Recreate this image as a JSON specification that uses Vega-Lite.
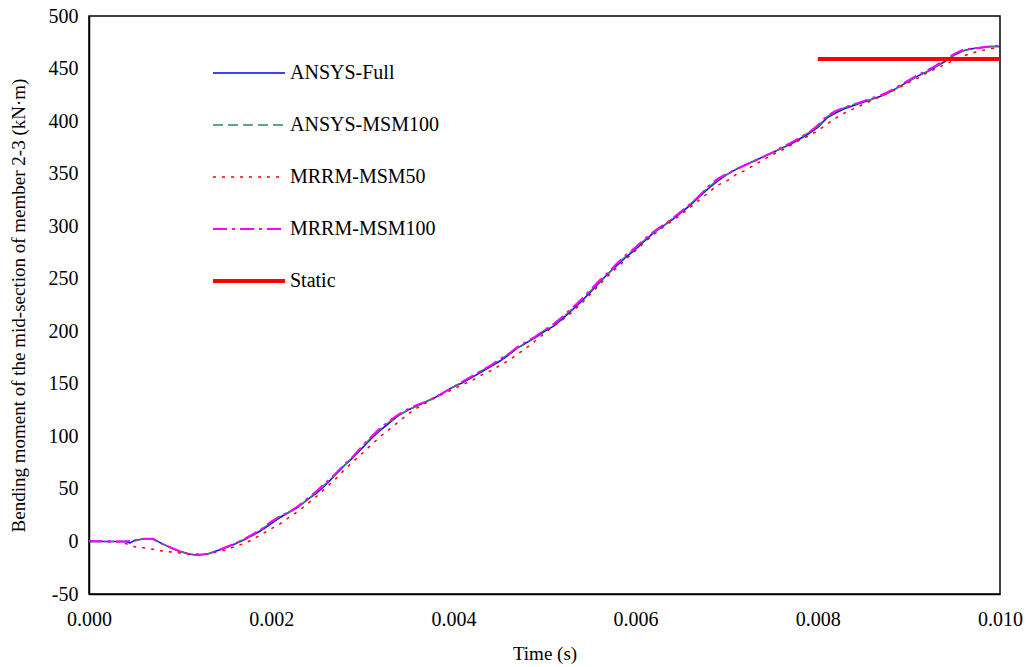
{
  "$schema": "https://vega.github.io/schema/vega-lite/v6.json",
  "width": 911,
  "height": 578,
  "autosize": {"type": "none"},
  "padding": {"left": 89, "top": 16, "right": 26, "bottom": 73},
  "background": "white",
  "config": {
    "font": "Liberation Serif",
    "view": {"stroke": "black", "strokeWidth": 1.5},
    "axis": {"grid": false, "ticks": false, "domainColor": "black", "domainWidth": 1.5, "labelColor": "black", "titleColor": "black", "labelFont": "Liberation Serif", "titleFont": "Liberation Serif", "labelFontSize": 20, "titleFontSize": 19, "titleFontWeight": "normal"},
    "legend": {"labelFont": "Liberation Serif", "labelFontSize": 20, "labelColor": "black"}
  },
  "data": {"values": [
    {"series": "ANSYS-Full", "t": 0, "v": 0},
    {"series": "ANSYS-Full", "t": 0.0002, "v": 0},
    {"series": "ANSYS-Full", "t": 0.0004, "v": 0},
    {"series": "ANSYS-Full", "t": 0.00045, "v": -1.5},
    {"series": "ANSYS-Full", "t": 0.0005, "v": 1},
    {"series": "ANSYS-Full", "t": 0.0006, "v": 2.5},
    {"series": "ANSYS-Full", "t": 0.0007, "v": 2.5},
    {"series": "ANSYS-Full", "t": 0.0008, "v": -2},
    {"series": "ANSYS-Full", "t": 0.0009, "v": -6},
    {"series": "ANSYS-Full", "t": 0.001, "v": -9.5},
    {"series": "ANSYS-Full", "t": 0.0011, "v": -12},
    {"series": "ANSYS-Full", "t": 0.00118, "v": -13},
    {"series": "ANSYS-Full", "t": 0.0013, "v": -12},
    {"series": "ANSYS-Full", "t": 0.0014, "v": -9},
    {"series": "ANSYS-Full", "t": 0.0015, "v": -6},
    {"series": "ANSYS-Full", "t": 0.0016, "v": -2.5},
    {"series": "ANSYS-Full", "t": 0.0017, "v": 1.5},
    {"series": "ANSYS-Full", "t": 0.0018, "v": 6},
    {"series": "ANSYS-Full", "t": 0.0019, "v": 11},
    {"series": "ANSYS-Full", "t": 0.002, "v": 17},
    {"series": "ANSYS-Full", "t": 0.0021, "v": 23},
    {"series": "ANSYS-Full", "t": 0.0022, "v": 28},
    {"series": "ANSYS-Full", "t": 0.0023, "v": 33},
    {"series": "ANSYS-Full", "t": 0.0024, "v": 40},
    {"series": "ANSYS-Full", "t": 0.0025, "v": 46},
    {"series": "ANSYS-Full", "t": 0.0026, "v": 54},
    {"series": "ANSYS-Full", "t": 0.0027, "v": 63},
    {"series": "ANSYS-Full", "t": 0.0028, "v": 72},
    {"series": "ANSYS-Full", "t": 0.0029, "v": 80},
    {"series": "ANSYS-Full", "t": 0.003, "v": 89},
    {"series": "ANSYS-Full", "t": 0.0031, "v": 98},
    {"series": "ANSYS-Full", "t": 0.0032, "v": 106},
    {"series": "ANSYS-Full", "t": 0.0033, "v": 113},
    {"series": "ANSYS-Full", "t": 0.0034, "v": 120},
    {"series": "ANSYS-Full", "t": 0.0035, "v": 125},
    {"series": "ANSYS-Full", "t": 0.0036, "v": 129},
    {"series": "ANSYS-Full", "t": 0.0037, "v": 133},
    {"series": "ANSYS-Full", "t": 0.0038, "v": 137},
    {"series": "ANSYS-Full", "t": 0.0039, "v": 142},
    {"series": "ANSYS-Full", "t": 0.004, "v": 147},
    {"series": "ANSYS-Full", "t": 0.0041, "v": 151},
    {"series": "ANSYS-Full", "t": 0.0042, "v": 156},
    {"series": "ANSYS-Full", "t": 0.0043, "v": 161},
    {"series": "ANSYS-Full", "t": 0.0044, "v": 166},
    {"series": "ANSYS-Full", "t": 0.0045, "v": 171},
    {"series": "ANSYS-Full", "t": 0.0046, "v": 177},
    {"series": "ANSYS-Full", "t": 0.0047, "v": 184},
    {"series": "ANSYS-Full", "t": 0.0048, "v": 189},
    {"series": "ANSYS-Full", "t": 0.0049, "v": 194},
    {"series": "ANSYS-Full", "t": 0.005, "v": 200},
    {"series": "ANSYS-Full", "t": 0.0051, "v": 205},
    {"series": "ANSYS-Full", "t": 0.0052, "v": 212},
    {"series": "ANSYS-Full", "t": 0.0053, "v": 220},
    {"series": "ANSYS-Full", "t": 0.0054, "v": 228},
    {"series": "ANSYS-Full", "t": 0.0055, "v": 237},
    {"series": "ANSYS-Full", "t": 0.0056, "v": 246},
    {"series": "ANSYS-Full", "t": 0.0057, "v": 255},
    {"series": "ANSYS-Full", "t": 0.0058, "v": 263},
    {"series": "ANSYS-Full", "t": 0.0059, "v": 271},
    {"series": "ANSYS-Full", "t": 0.006, "v": 278},
    {"series": "ANSYS-Full", "t": 0.0061, "v": 286},
    {"series": "ANSYS-Full", "t": 0.0062, "v": 294},
    {"series": "ANSYS-Full", "t": 0.0063, "v": 300},
    {"series": "ANSYS-Full", "t": 0.0064, "v": 306},
    {"series": "ANSYS-Full", "t": 0.0065, "v": 313},
    {"series": "ANSYS-Full", "t": 0.0066, "v": 320},
    {"series": "ANSYS-Full", "t": 0.0067, "v": 328},
    {"series": "ANSYS-Full", "t": 0.0068, "v": 336},
    {"series": "ANSYS-Full", "t": 0.0069, "v": 343},
    {"series": "ANSYS-Full", "t": 0.007, "v": 349},
    {"series": "ANSYS-Full", "t": 0.0071, "v": 354},
    {"series": "ANSYS-Full", "t": 0.0072, "v": 358},
    {"series": "ANSYS-Full", "t": 0.0073, "v": 362},
    {"series": "ANSYS-Full", "t": 0.0074, "v": 366},
    {"series": "ANSYS-Full", "t": 0.0075, "v": 370},
    {"series": "ANSYS-Full", "t": 0.0076, "v": 374},
    {"series": "ANSYS-Full", "t": 0.0077, "v": 378},
    {"series": "ANSYS-Full", "t": 0.0078, "v": 383},
    {"series": "ANSYS-Full", "t": 0.0079, "v": 388},
    {"series": "ANSYS-Full", "t": 0.008, "v": 394},
    {"series": "ANSYS-Full", "t": 0.0081, "v": 403},
    {"series": "ANSYS-Full", "t": 0.0082, "v": 408},
    {"series": "ANSYS-Full", "t": 0.0083, "v": 412},
    {"series": "ANSYS-Full", "t": 0.0084, "v": 415},
    {"series": "ANSYS-Full", "t": 0.0085, "v": 418},
    {"series": "ANSYS-Full", "t": 0.0086, "v": 421},
    {"series": "ANSYS-Full", "t": 0.0087, "v": 424},
    {"series": "ANSYS-Full", "t": 0.0088, "v": 428},
    {"series": "ANSYS-Full", "t": 0.0089, "v": 433},
    {"series": "ANSYS-Full", "t": 0.009, "v": 438},
    {"series": "ANSYS-Full", "t": 0.0091, "v": 443},
    {"series": "ANSYS-Full", "t": 0.0092, "v": 447},
    {"series": "ANSYS-Full", "t": 0.0093, "v": 452},
    {"series": "ANSYS-Full", "t": 0.0094, "v": 457},
    {"series": "ANSYS-Full", "t": 0.0095, "v": 463},
    {"series": "ANSYS-Full", "t": 0.0096, "v": 467},
    {"series": "ANSYS-Full", "t": 0.0097, "v": 469},
    {"series": "ANSYS-Full", "t": 0.0098, "v": 470},
    {"series": "ANSYS-Full", "t": 0.0099, "v": 471},
    {"series": "ANSYS-Full", "t": 0.01, "v": 471},

    {"series": "ANSYS-MSM100", "t": 0, "v": 0},
    {"series": "ANSYS-MSM100", "t": 0.0004, "v": 0},
    {"series": "ANSYS-MSM100", "t": 0.0005, "v": 0.5},
    {"series": "ANSYS-MSM100", "t": 0.0006, "v": 2.5},
    {"series": "ANSYS-MSM100", "t": 0.0007, "v": 2.5},
    {"series": "ANSYS-MSM100", "t": 0.0008, "v": -2},
    {"series": "ANSYS-MSM100", "t": 0.0009, "v": -6},
    {"series": "ANSYS-MSM100", "t": 0.001, "v": -9.5},
    {"series": "ANSYS-MSM100", "t": 0.0011, "v": -12},
    {"series": "ANSYS-MSM100", "t": 0.00118, "v": -13},
    {"series": "ANSYS-MSM100", "t": 0.0013, "v": -12},
    {"series": "ANSYS-MSM100", "t": 0.0014, "v": -9},
    {"series": "ANSYS-MSM100", "t": 0.0015, "v": -6},
    {"series": "ANSYS-MSM100", "t": 0.0016, "v": -2},
    {"series": "ANSYS-MSM100", "t": 0.0017, "v": 2},
    {"series": "ANSYS-MSM100", "t": 0.0018, "v": 6.5},
    {"series": "ANSYS-MSM100", "t": 0.0019, "v": 12},
    {"series": "ANSYS-MSM100", "t": 0.002, "v": 18},
    {"series": "ANSYS-MSM100", "t": 0.0021, "v": 24},
    {"series": "ANSYS-MSM100", "t": 0.0022, "v": 28},
    {"series": "ANSYS-MSM100", "t": 0.0023, "v": 33},
    {"series": "ANSYS-MSM100", "t": 0.0024, "v": 40},
    {"series": "ANSYS-MSM100", "t": 0.0025, "v": 47},
    {"series": "ANSYS-MSM100", "t": 0.0026, "v": 55},
    {"series": "ANSYS-MSM100", "t": 0.0027, "v": 63},
    {"series": "ANSYS-MSM100", "t": 0.0028, "v": 72},
    {"series": "ANSYS-MSM100", "t": 0.0029, "v": 81},
    {"series": "ANSYS-MSM100", "t": 0.003, "v": 90},
    {"series": "ANSYS-MSM100", "t": 0.0031, "v": 99},
    {"series": "ANSYS-MSM100", "t": 0.0032, "v": 107},
    {"series": "ANSYS-MSM100", "t": 0.0033, "v": 114},
    {"series": "ANSYS-MSM100", "t": 0.0034, "v": 120},
    {"series": "ANSYS-MSM100", "t": 0.0035, "v": 125},
    {"series": "ANSYS-MSM100", "t": 0.0036, "v": 129},
    {"series": "ANSYS-MSM100", "t": 0.0037, "v": 133},
    {"series": "ANSYS-MSM100", "t": 0.0038, "v": 137},
    {"series": "ANSYS-MSM100", "t": 0.0039, "v": 142},
    {"series": "ANSYS-MSM100", "t": 0.004, "v": 147},
    {"series": "ANSYS-MSM100", "t": 0.0041, "v": 152},
    {"series": "ANSYS-MSM100", "t": 0.0042, "v": 157},
    {"series": "ANSYS-MSM100", "t": 0.0043, "v": 162},
    {"series": "ANSYS-MSM100", "t": 0.0044, "v": 167},
    {"series": "ANSYS-MSM100", "t": 0.0045, "v": 172},
    {"series": "ANSYS-MSM100", "t": 0.0046, "v": 178},
    {"series": "ANSYS-MSM100", "t": 0.0047, "v": 184},
    {"series": "ANSYS-MSM100", "t": 0.0048, "v": 189},
    {"series": "ANSYS-MSM100", "t": 0.0049, "v": 195},
    {"series": "ANSYS-MSM100", "t": 0.005, "v": 201},
    {"series": "ANSYS-MSM100", "t": 0.0051, "v": 206},
    {"series": "ANSYS-MSM100", "t": 0.0052, "v": 213},
    {"series": "ANSYS-MSM100", "t": 0.0053, "v": 221},
    {"series": "ANSYS-MSM100", "t": 0.0054, "v": 229},
    {"series": "ANSYS-MSM100", "t": 0.0055, "v": 238},
    {"series": "ANSYS-MSM100", "t": 0.0056, "v": 247},
    {"series": "ANSYS-MSM100", "t": 0.0057, "v": 255},
    {"series": "ANSYS-MSM100", "t": 0.0058, "v": 264},
    {"series": "ANSYS-MSM100", "t": 0.0059, "v": 272},
    {"series": "ANSYS-MSM100", "t": 0.006, "v": 279},
    {"series": "ANSYS-MSM100", "t": 0.0061, "v": 287},
    {"series": "ANSYS-MSM100", "t": 0.0062, "v": 294},
    {"series": "ANSYS-MSM100", "t": 0.0063, "v": 300},
    {"series": "ANSYS-MSM100", "t": 0.0064, "v": 307},
    {"series": "ANSYS-MSM100", "t": 0.0065, "v": 314},
    {"series": "ANSYS-MSM100", "t": 0.0066, "v": 321},
    {"series": "ANSYS-MSM100", "t": 0.0067, "v": 329},
    {"series": "ANSYS-MSM100", "t": 0.0068, "v": 337},
    {"series": "ANSYS-MSM100", "t": 0.0069, "v": 344},
    {"series": "ANSYS-MSM100", "t": 0.007, "v": 349},
    {"series": "ANSYS-MSM100", "t": 0.0071, "v": 354},
    {"series": "ANSYS-MSM100", "t": 0.0072, "v": 358},
    {"series": "ANSYS-MSM100", "t": 0.0073, "v": 362},
    {"series": "ANSYS-MSM100", "t": 0.0074, "v": 366},
    {"series": "ANSYS-MSM100", "t": 0.0075, "v": 370},
    {"series": "ANSYS-MSM100", "t": 0.0076, "v": 374},
    {"series": "ANSYS-MSM100", "t": 0.0077, "v": 379},
    {"series": "ANSYS-MSM100", "t": 0.0078, "v": 384},
    {"series": "ANSYS-MSM100", "t": 0.0079, "v": 389},
    {"series": "ANSYS-MSM100", "t": 0.008, "v": 395},
    {"series": "ANSYS-MSM100", "t": 0.0081, "v": 404},
    {"series": "ANSYS-MSM100", "t": 0.0082, "v": 409},
    {"series": "ANSYS-MSM100", "t": 0.0083, "v": 413},
    {"series": "ANSYS-MSM100", "t": 0.0084, "v": 416},
    {"series": "ANSYS-MSM100", "t": 0.0085, "v": 418},
    {"series": "ANSYS-MSM100", "t": 0.0086, "v": 421},
    {"series": "ANSYS-MSM100", "t": 0.0087, "v": 424},
    {"series": "ANSYS-MSM100", "t": 0.0088, "v": 428},
    {"series": "ANSYS-MSM100", "t": 0.0089, "v": 433},
    {"series": "ANSYS-MSM100", "t": 0.009, "v": 438},
    {"series": "ANSYS-MSM100", "t": 0.0091, "v": 443},
    {"series": "ANSYS-MSM100", "t": 0.0092, "v": 447},
    {"series": "ANSYS-MSM100", "t": 0.0093, "v": 452},
    {"series": "ANSYS-MSM100", "t": 0.0094, "v": 458},
    {"series": "ANSYS-MSM100", "t": 0.0095, "v": 463},
    {"series": "ANSYS-MSM100", "t": 0.0096, "v": 467},
    {"series": "ANSYS-MSM100", "t": 0.0097, "v": 469},
    {"series": "ANSYS-MSM100", "t": 0.0098, "v": 470},
    {"series": "ANSYS-MSM100", "t": 0.0099, "v": 471},
    {"series": "ANSYS-MSM100", "t": 0.01, "v": 471},

    {"series": "MRRM-MSM50", "t": 0, "v": 0},
    {"series": "MRRM-MSM50", "t": 0.0003, "v": 0},
    {"series": "MRRM-MSM50", "t": 0.0004, "v": -2},
    {"series": "MRRM-MSM50", "t": 0.0005, "v": -5},
    {"series": "MRRM-MSM50", "t": 0.0006, "v": -6},
    {"series": "MRRM-MSM50", "t": 0.0007, "v": -7.5},
    {"series": "MRRM-MSM50", "t": 0.0008, "v": -9},
    {"series": "MRRM-MSM50", "t": 0.0009, "v": -10},
    {"series": "MRRM-MSM50", "t": 0.001, "v": -11},
    {"series": "MRRM-MSM50", "t": 0.0011, "v": -12},
    {"series": "MRRM-MSM50", "t": 0.0012, "v": -12},
    {"series": "MRRM-MSM50", "t": 0.0013, "v": -12},
    {"series": "MRRM-MSM50", "t": 0.0014, "v": -10},
    {"series": "MRRM-MSM50", "t": 0.0015, "v": -8},
    {"series": "MRRM-MSM50", "t": 0.0016, "v": -5},
    {"series": "MRRM-MSM50", "t": 0.0017, "v": -2},
    {"series": "MRRM-MSM50", "t": 0.0018, "v": 2},
    {"series": "MRRM-MSM50", "t": 0.0019, "v": 7},
    {"series": "MRRM-MSM50", "t": 0.002, "v": 12},
    {"series": "MRRM-MSM50", "t": 0.0021, "v": 17},
    {"series": "MRRM-MSM50", "t": 0.0022, "v": 23},
    {"series": "MRRM-MSM50", "t": 0.0023, "v": 29},
    {"series": "MRRM-MSM50", "t": 0.0024, "v": 36},
    {"series": "MRRM-MSM50", "t": 0.0025, "v": 43},
    {"series": "MRRM-MSM50", "t": 0.0026, "v": 51},
    {"series": "MRRM-MSM50", "t": 0.0027, "v": 59},
    {"series": "MRRM-MSM50", "t": 0.0028, "v": 68},
    {"series": "MRRM-MSM50", "t": 0.0029, "v": 76},
    {"series": "MRRM-MSM50", "t": 0.003, "v": 84},
    {"series": "MRRM-MSM50", "t": 0.0031, "v": 92},
    {"series": "MRRM-MSM50", "t": 0.0032, "v": 100},
    {"series": "MRRM-MSM50", "t": 0.0033, "v": 107},
    {"series": "MRRM-MSM50", "t": 0.0034, "v": 114},
    {"series": "MRRM-MSM50", "t": 0.0035, "v": 121},
    {"series": "MRRM-MSM50", "t": 0.0036, "v": 127},
    {"series": "MRRM-MSM50", "t": 0.0037, "v": 132},
    {"series": "MRRM-MSM50", "t": 0.0038, "v": 137},
    {"series": "MRRM-MSM50", "t": 0.0039, "v": 141},
    {"series": "MRRM-MSM50", "t": 0.004, "v": 145},
    {"series": "MRRM-MSM50", "t": 0.0041, "v": 149},
    {"series": "MRRM-MSM50", "t": 0.0042, "v": 153},
    {"series": "MRRM-MSM50", "t": 0.0043, "v": 158},
    {"series": "MRRM-MSM50", "t": 0.0044, "v": 162},
    {"series": "MRRM-MSM50", "t": 0.0045, "v": 167},
    {"series": "MRRM-MSM50", "t": 0.0046, "v": 172},
    {"series": "MRRM-MSM50", "t": 0.0047, "v": 178},
    {"series": "MRRM-MSM50", "t": 0.0048, "v": 184},
    {"series": "MRRM-MSM50", "t": 0.0049, "v": 191},
    {"series": "MRRM-MSM50", "t": 0.005, "v": 198},
    {"series": "MRRM-MSM50", "t": 0.0051, "v": 205},
    {"series": "MRRM-MSM50", "t": 0.0052, "v": 211},
    {"series": "MRRM-MSM50", "t": 0.0053, "v": 218},
    {"series": "MRRM-MSM50", "t": 0.0054, "v": 226},
    {"series": "MRRM-MSM50", "t": 0.0055, "v": 235},
    {"series": "MRRM-MSM50", "t": 0.0056, "v": 244},
    {"series": "MRRM-MSM50", "t": 0.0057, "v": 253},
    {"series": "MRRM-MSM50", "t": 0.0058, "v": 261},
    {"series": "MRRM-MSM50", "t": 0.0059, "v": 269},
    {"series": "MRRM-MSM50", "t": 0.006, "v": 277},
    {"series": "MRRM-MSM50", "t": 0.0061, "v": 285},
    {"series": "MRRM-MSM50", "t": 0.0062, "v": 292},
    {"series": "MRRM-MSM50", "t": 0.0063, "v": 299},
    {"series": "MRRM-MSM50", "t": 0.0064, "v": 305},
    {"series": "MRRM-MSM50", "t": 0.0065, "v": 311},
    {"series": "MRRM-MSM50", "t": 0.0066, "v": 318},
    {"series": "MRRM-MSM50", "t": 0.0067, "v": 325},
    {"series": "MRRM-MSM50", "t": 0.0068, "v": 332},
    {"series": "MRRM-MSM50", "t": 0.0069, "v": 339},
    {"series": "MRRM-MSM50", "t": 0.007, "v": 343},
    {"series": "MRRM-MSM50", "t": 0.0071, "v": 349},
    {"series": "MRRM-MSM50", "t": 0.0072, "v": 353},
    {"series": "MRRM-MSM50", "t": 0.0073, "v": 358},
    {"series": "MRRM-MSM50", "t": 0.0074, "v": 363},
    {"series": "MRRM-MSM50", "t": 0.0075, "v": 368},
    {"series": "MRRM-MSM50", "t": 0.0076, "v": 372},
    {"series": "MRRM-MSM50", "t": 0.0077, "v": 377},
    {"series": "MRRM-MSM50", "t": 0.0078, "v": 382},
    {"series": "MRRM-MSM50", "t": 0.0079, "v": 386},
    {"series": "MRRM-MSM50", "t": 0.008, "v": 391},
    {"series": "MRRM-MSM50", "t": 0.0081, "v": 397},
    {"series": "MRRM-MSM50", "t": 0.0082, "v": 403},
    {"series": "MRRM-MSM50", "t": 0.0083, "v": 408},
    {"series": "MRRM-MSM50", "t": 0.0084, "v": 412},
    {"series": "MRRM-MSM50", "t": 0.0085, "v": 416},
    {"series": "MRRM-MSM50", "t": 0.0086, "v": 420},
    {"series": "MRRM-MSM50", "t": 0.0087, "v": 424},
    {"series": "MRRM-MSM50", "t": 0.0088, "v": 428},
    {"series": "MRRM-MSM50", "t": 0.0089, "v": 432},
    {"series": "MRRM-MSM50", "t": 0.009, "v": 437},
    {"series": "MRRM-MSM50", "t": 0.0091, "v": 441},
    {"series": "MRRM-MSM50", "t": 0.0092, "v": 446},
    {"series": "MRRM-MSM50", "t": 0.0093, "v": 450},
    {"series": "MRRM-MSM50", "t": 0.0094, "v": 454},
    {"series": "MRRM-MSM50", "t": 0.0095, "v": 458},
    {"series": "MRRM-MSM50", "t": 0.0096, "v": 462},
    {"series": "MRRM-MSM50", "t": 0.0097, "v": 465},
    {"series": "MRRM-MSM50", "t": 0.0098, "v": 467},
    {"series": "MRRM-MSM50", "t": 0.0099, "v": 469},
    {"series": "MRRM-MSM50", "t": 0.01, "v": 470},

    {"series": "MRRM-MSM100", "t": 0, "v": 0.5},
    {"series": "MRRM-MSM100", "t": 0.0002, "v": 0},
    {"series": "MRRM-MSM100", "t": 0.0004, "v": 0},
    {"series": "MRRM-MSM100", "t": 0.0005, "v": 1},
    {"series": "MRRM-MSM100", "t": 0.0006, "v": 2.5},
    {"series": "MRRM-MSM100", "t": 0.0007, "v": 2.5},
    {"series": "MRRM-MSM100", "t": 0.0008, "v": -2},
    {"series": "MRRM-MSM100", "t": 0.0009, "v": -6},
    {"series": "MRRM-MSM100", "t": 0.001, "v": -9.5},
    {"series": "MRRM-MSM100", "t": 0.0011, "v": -12},
    {"series": "MRRM-MSM100", "t": 0.00118, "v": -13},
    {"series": "MRRM-MSM100", "t": 0.0013, "v": -12},
    {"series": "MRRM-MSM100", "t": 0.0014, "v": -9},
    {"series": "MRRM-MSM100", "t": 0.0015, "v": -5.5},
    {"series": "MRRM-MSM100", "t": 0.0016, "v": -2},
    {"series": "MRRM-MSM100", "t": 0.0017, "v": 2},
    {"series": "MRRM-MSM100", "t": 0.0018, "v": 7},
    {"series": "MRRM-MSM100", "t": 0.0019, "v": 12},
    {"series": "MRRM-MSM100", "t": 0.002, "v": 19},
    {"series": "MRRM-MSM100", "t": 0.0021, "v": 24},
    {"series": "MRRM-MSM100", "t": 0.0022, "v": 28},
    {"series": "MRRM-MSM100", "t": 0.0023, "v": 34},
    {"series": "MRRM-MSM100", "t": 0.0024, "v": 41},
    {"series": "MRRM-MSM100", "t": 0.0025, "v": 48},
    {"series": "MRRM-MSM100", "t": 0.0026, "v": 56},
    {"series": "MRRM-MSM100", "t": 0.0027, "v": 64},
    {"series": "MRRM-MSM100", "t": 0.0028, "v": 73},
    {"series": "MRRM-MSM100", "t": 0.0029, "v": 81},
    {"series": "MRRM-MSM100", "t": 0.003, "v": 91},
    {"series": "MRRM-MSM100", "t": 0.0031, "v": 100},
    {"series": "MRRM-MSM100", "t": 0.0032, "v": 108},
    {"series": "MRRM-MSM100", "t": 0.0033, "v": 115},
    {"series": "MRRM-MSM100", "t": 0.0034, "v": 121},
    {"series": "MRRM-MSM100", "t": 0.0035, "v": 126},
    {"series": "MRRM-MSM100", "t": 0.0036, "v": 130},
    {"series": "MRRM-MSM100", "t": 0.0037, "v": 133},
    {"series": "MRRM-MSM100", "t": 0.0038, "v": 137},
    {"series": "MRRM-MSM100", "t": 0.0039, "v": 142},
    {"series": "MRRM-MSM100", "t": 0.004, "v": 147},
    {"series": "MRRM-MSM100", "t": 0.0041, "v": 152},
    {"series": "MRRM-MSM100", "t": 0.0042, "v": 157},
    {"series": "MRRM-MSM100", "t": 0.0043, "v": 162},
    {"series": "MRRM-MSM100", "t": 0.0044, "v": 167},
    {"series": "MRRM-MSM100", "t": 0.0045, "v": 173},
    {"series": "MRRM-MSM100", "t": 0.0046, "v": 178},
    {"series": "MRRM-MSM100", "t": 0.0047, "v": 185},
    {"series": "MRRM-MSM100", "t": 0.0048, "v": 190},
    {"series": "MRRM-MSM100", "t": 0.0049, "v": 195},
    {"series": "MRRM-MSM100", "t": 0.005, "v": 201},
    {"series": "MRRM-MSM100", "t": 0.0051, "v": 207},
    {"series": "MRRM-MSM100", "t": 0.0052, "v": 214},
    {"series": "MRRM-MSM100", "t": 0.0053, "v": 222},
    {"series": "MRRM-MSM100", "t": 0.0054, "v": 230},
    {"series": "MRRM-MSM100", "t": 0.0055, "v": 239},
    {"series": "MRRM-MSM100", "t": 0.0056, "v": 248},
    {"series": "MRRM-MSM100", "t": 0.0057, "v": 256},
    {"series": "MRRM-MSM100", "t": 0.0058, "v": 265},
    {"series": "MRRM-MSM100", "t": 0.0059, "v": 273},
    {"series": "MRRM-MSM100", "t": 0.006, "v": 280},
    {"series": "MRRM-MSM100", "t": 0.0061, "v": 288},
    {"series": "MRRM-MSM100", "t": 0.0062, "v": 295},
    {"series": "MRRM-MSM100", "t": 0.0063, "v": 301},
    {"series": "MRRM-MSM100", "t": 0.0064, "v": 307},
    {"series": "MRRM-MSM100", "t": 0.0065, "v": 314},
    {"series": "MRRM-MSM100", "t": 0.0066, "v": 321},
    {"series": "MRRM-MSM100", "t": 0.0067, "v": 329},
    {"series": "MRRM-MSM100", "t": 0.0068, "v": 338},
    {"series": "MRRM-MSM100", "t": 0.0069, "v": 345},
    {"series": "MRRM-MSM100", "t": 0.007, "v": 350},
    {"series": "MRRM-MSM100", "t": 0.0071, "v": 354},
    {"series": "MRRM-MSM100", "t": 0.0072, "v": 358},
    {"series": "MRRM-MSM100", "t": 0.0073, "v": 362},
    {"series": "MRRM-MSM100", "t": 0.0074, "v": 366},
    {"series": "MRRM-MSM100", "t": 0.0075, "v": 370},
    {"series": "MRRM-MSM100", "t": 0.0076, "v": 375},
    {"series": "MRRM-MSM100", "t": 0.0077, "v": 379},
    {"series": "MRRM-MSM100", "t": 0.0078, "v": 384},
    {"series": "MRRM-MSM100", "t": 0.0079, "v": 389},
    {"series": "MRRM-MSM100", "t": 0.008, "v": 396},
    {"series": "MRRM-MSM100", "t": 0.0081, "v": 405},
    {"series": "MRRM-MSM100", "t": 0.0082, "v": 410},
    {"series": "MRRM-MSM100", "t": 0.0083, "v": 413},
    {"series": "MRRM-MSM100", "t": 0.0084, "v": 416},
    {"series": "MRRM-MSM100", "t": 0.0085, "v": 419},
    {"series": "MRRM-MSM100", "t": 0.0086, "v": 422},
    {"series": "MRRM-MSM100", "t": 0.0087, "v": 425},
    {"series": "MRRM-MSM100", "t": 0.0088, "v": 429},
    {"series": "MRRM-MSM100", "t": 0.0089, "v": 434},
    {"series": "MRRM-MSM100", "t": 0.009, "v": 439},
    {"series": "MRRM-MSM100", "t": 0.0091, "v": 444},
    {"series": "MRRM-MSM100", "t": 0.0092, "v": 448},
    {"series": "MRRM-MSM100", "t": 0.0093, "v": 453},
    {"series": "MRRM-MSM100", "t": 0.0094, "v": 459},
    {"series": "MRRM-MSM100", "t": 0.0095, "v": 464},
    {"series": "MRRM-MSM100", "t": 0.0096, "v": 468},
    {"series": "MRRM-MSM100", "t": 0.0097, "v": 469},
    {"series": "MRRM-MSM100", "t": 0.0098, "v": 470},
    {"series": "MRRM-MSM100", "t": 0.0099, "v": 471},
    {"series": "MRRM-MSM100", "t": 0.01, "v": 472},

    {"series": "Static", "t": 0.008, "v": 459},
    {"series": "Static", "t": 0.01, "v": 459}
  ]},
  "mark": {"type": "line", "clip": true},
  "encoding": {
    "x": {"field": "t", "type": "quantitative", "title": "Time (s)",
      "scale": {"domain": [0, 0.01], "nice": false},
      "axis": {"values": [0, 0.002, 0.004, 0.006, 0.008, 0.01], "format": ".3f", "labelFlush": false, "labelFont": "Liberation Serif", "labelFontSize": 20, "labelPadding": 15, "titlePadding": 15}},
    "y": {"field": "v", "type": "quantitative", "title": "Bending moment of the mid-section of member 2-3 (kN·m)",
      "scale": {"domain": [-50, 500], "nice": false},
      "axis": {"values": [-50, 0, 50, 100, 150, 200, 250, 300, 350, 400, 450, 500], "labelExpr": "datum.value < 0 ? '-' + abs(datum.value) : '' + datum.value", "labelFlush": false, "labelFont": "Liberation Serif", "labelFontSize": 20, "labelPadding": 11, "titlePadding": 20}},
    "color": {"field": "series", "type": "nominal",
      "scale": {"domain": ["ANSYS-Full", "ANSYS-MSM100", "MRRM-MSM50", "MRRM-MSM100", "Static"],
                "range": ["#0000ff", "#2e8b57", "#ff0000", "#ff00ff", "#ff0000"]},
      "legend": {"title": null, "orient": "none", "legendX": 150, "legendY": 47, "symbolType": "stroke", "symbolSize": 5184, "rowPadding": 32, "labelOffset": 31, "labelFont": "Liberation Serif", "labelFontSize": 20,
        "encode": {"symbols": {"update": {"strokeWidth": {"signal": "datum.value === 'Static' ? 4 : (datum.value === 'MRRM-MSM100' ? 2 : 1.5)"}}}}}},
    "strokeDash": {"field": "series", "type": "nominal",
      "scale": {"domain": ["ANSYS-Full", "ANSYS-MSM100", "MRRM-MSM50", "MRRM-MSM100", "Static"],
                "range": [[1, 0], [10, 5], [3, 6], [14, 5, 3, 5], [1, 0]]},
      "legend": {"title": null, "orient": "none", "legendX": 150, "legendY": 47, "symbolType": "stroke", "symbolSize": 5184, "rowPadding": 32, "labelOffset": 31, "labelFont": "Liberation Serif", "labelFontSize": 20,
        "encode": {"symbols": {"update": {"strokeWidth": {"signal": "datum.value === 'Static' ? 4 : (datum.value === 'MRRM-MSM100' ? 2 : 1.5)"}}}}}},
    "strokeWidth": {"condition": [{"test": "datum.series === 'Static'", "value": 4}, {"test": "datum.series === 'MRRM-MSM100'", "value": 2}], "value": 1.5},
    "order": {"field": "t", "type": "quantitative"}
  }
}
